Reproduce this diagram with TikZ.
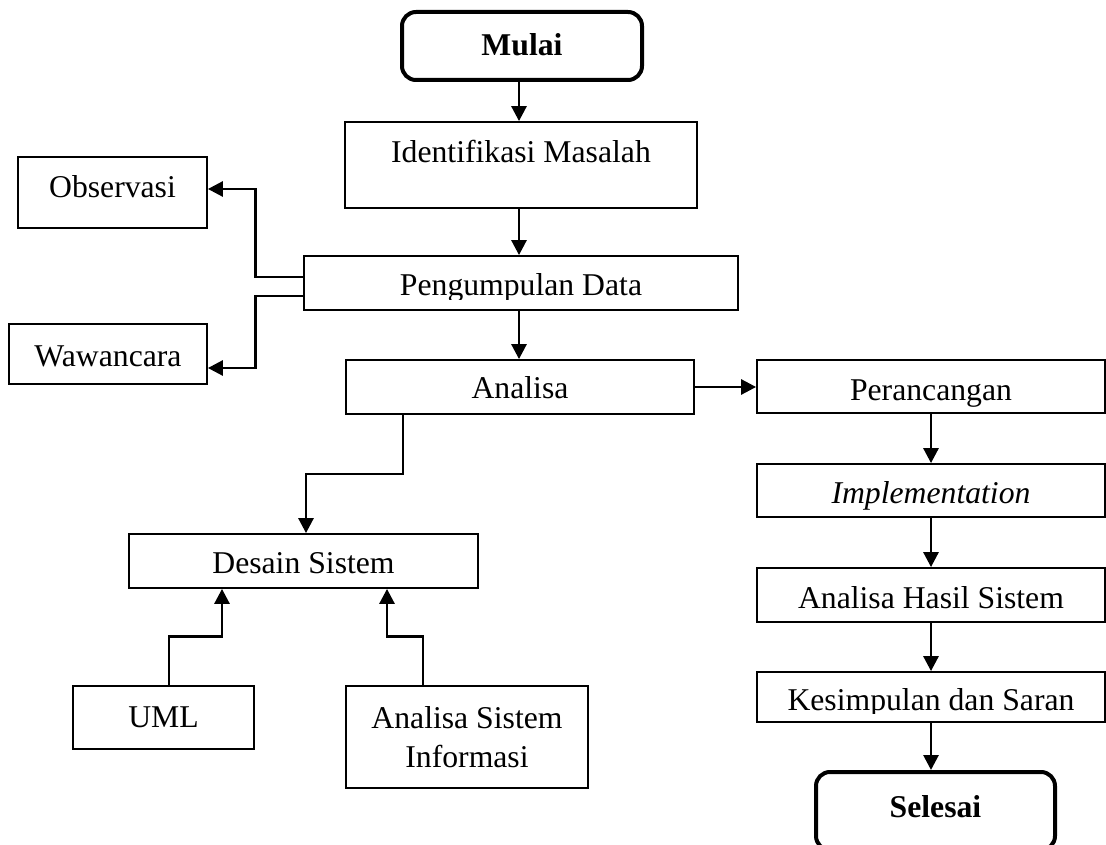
\documentclass[tikz,border=0pt]{standalone}
\usepackage{fontspec}
\setmainfont{Liberation Serif}
\usetikzlibrary{arrows.meta,calc}
\begin{document}
\begin{tikzpicture}[x=1pt,y=-1pt,
  plainbox/.style={draw, line width=1.8pt, inner sep=0pt, font=\fontsize{31.7pt}{39pt}\selectfont},
  box/.style={plainbox, text height=30pt},
  term/.style={box, line width=4pt, rounded corners=14pt, font=\fontsize{31.7pt}{39pt}\selectfont\bfseries},
  conn/.style={line width=2.8pt, -{Triangle[length=15pt,width=15pt]}}
]
\useasboundingbox (0,0) rectangle (1106,845);

% terminals
\node[term, minimum width=240pt, minimum height=68pt, text depth=10pt] (mulai) at (522,46) {Mulai};
\node[term, minimum width=239pt, minimum height=78pt, text depth=18pt] (selesai) at (935.5,811) {Selesai};

% main column
\node[box, minimum width=352pt, minimum height=86pt, text depth=34pt] (ident) at (521,165) {Identifikasi Masalah};
\node[box, minimum width=434pt, minimum height=54pt, text depth=6pt] (peng) at (521,283) {Pengumpulan Data};
\node[box, minimum width=348pt, minimum height=54pt, text depth=8pt] (anal) at (520,387) {Analisa};

% left side
\node[box, minimum width=189pt, minimum height=71pt, text depth=19pt] (obs) at (112.5,192.5) {Observasi};
\node[box, minimum width=198pt, minimum height=60pt, text depth=6pt] (waw) at (108,354) {Wawancara};

% design branch
\node[box, minimum width=349pt, minimum height=54pt, text depth=6pt] (desain) at (303.5,561) {Desain Sistem};
\node[box, minimum width=181pt, minimum height=63pt, text depth=11pt] (uml) at (163.5,717.5) {UML};
\node[plainbox, minimum width=242pt, minimum height=102pt, align=center] (asi) at (467,737) {Analisa Sistem\\Informasi};

% right column
\node[box, minimum width=348pt, minimum height=53pt, text depth=3pt] (peran) at (931,386.5) {Perancangan};
\node[box, minimum width=348pt, minimum height=53pt, text depth=5pt] (impl) at (931,490.5) {\itshape Implementation};
\node[box, minimum width=348pt, minimum height=54pt, text depth=4pt] (ahs) at (931,595) {Analisa Hasil Sistem};
\node[box, minimum width=348pt, minimum height=50pt, text depth=4pt] (kes) at (931,697) {Kesimpulan dan Saran};

% clipped descenders as in the reference
\fill[white] (305.5,299.5) rectangle (736.5,308.9);
\fill[white] (758,713.5) rectangle (1104,721.0);

% connectors
\coordinate (spine) at (519,0);
\draw[conn] (mulai.south -| spine) -- (ident.north -| spine);
\draw[conn] (ident.south -| spine) -- (peng.north -| spine);
\draw[conn] (peng.south -| spine) -- (anal.north -| spine);
\draw[conn] ([yshift=6pt]peng.west) -- ++(-48,0) |- ([yshift=3.5pt]obs.east);
\draw[conn] ([yshift=-13pt]peng.west) -- ++(-48,0) |- ([yshift=-14pt]waw.east);
\draw[conn] (anal.east) -- (anal.east -| peran.west);
\draw[conn] ([xshift=-117pt]anal.south) -- ++(0,59) -| ([xshift=2.5pt]desain.north);
\draw[conn] ([xshift=5.5pt]uml.north) -- ++(0,-49) -| ([xshift=-81.5pt]desain.south);
\draw[conn] ([xshift=-44pt]asi.north) -- ++(0,-49) -| ([xshift=83.5pt]desain.south);
\draw[conn] (peran.south) -- (impl.north);
\draw[conn] (impl.south) -- (ahs.north);
\draw[conn] (ahs.south) -- (kes.north);
\draw[conn] (kes.south) -- (kes.south |- selesai.north);
\end{tikzpicture}
\end{document}
